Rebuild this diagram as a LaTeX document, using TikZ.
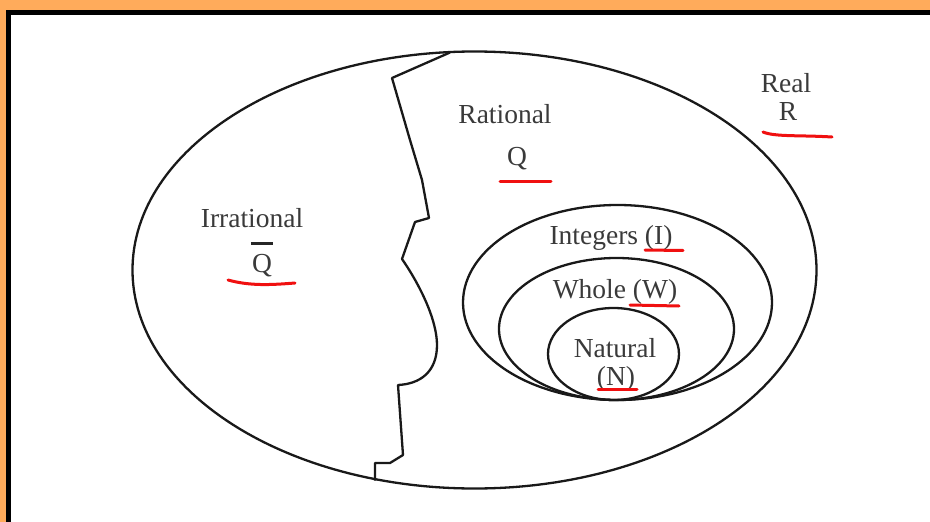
\documentclass[tikz,border=0pt]{standalone}
\usepackage{fontspec}
\setmainfont{Liberation Serif}
\definecolor{frameorange}{HTML}{FFAB5B}
\definecolor{txtgray}{HTML}{3A3A3A}
\definecolor{markred}{HTML}{F01010}
\tikzset{
  setline/.style={line width=2.3pt, draw=black!90},
  lbl/.style={anchor=base, inner sep=0pt, text=txtgray, font=\fontsize{27.5}{30}\selectfont},
  redmark/.style={draw=markred, line width=3pt, line cap=round}
}
\begin{document}
\begin{tikzpicture}[x=1pt,y=-1pt]
\useasboundingbox (0,0) rectangle (930,522);
\fill[white] (0,0) rectangle (930,522);
% frame
\fill[frameorange] (0,0) rectangle (930,10);
\fill[frameorange] (0,0) rectangle (6,522);
\fill[black] (6,10) rectangle (930,15);
\fill[black] (6,10) rectangle (11,522);
% sets
\draw[setline] (474.5,270) ellipse [x radius=342, y radius=218.5];
\draw[setline] (617.5,302.5) ellipse [x radius=154.5, y radius=97.5];
\draw[setline] (616.5,329) ellipse [x radius=117.5, y radius=71];
\draw[setline] (613.5,354) ellipse [x radius=65.5, y radius=46];
% dividing line
\draw[setline, line join=round] (450,52.5) -- (392,78) -- (410,140) -- (422,180) -- (429,218) -- (415,222) -- (402,259)
  .. controls (420,285) and (437,320) .. (437,345)
  .. controls (437,372) and (420,384) .. (398,385)
  -- (403,455) -- (390,463) -- (375,463) -- (375,480.5);
% labels
\node[lbl] (irr) at (252,227) {Irrational};
\node[lbl] (qbar) at (262,272) {Q};
\coordinate (b1) at ([xshift=-1pt,yshift=10pt]qbar.north west);
\coordinate (b2) at ([xshift=1pt,yshift=10pt]qbar.north east);
\draw[line width=3pt, black!85] (b1) -- (b2);
\node[lbl] (rat) at (505,123) {Rational};
\node[lbl] (q) at (517,165) {Q};
\node[lbl] (real) at (786,92) {Real};
\node[lbl] (r) at (788,120) {R};
\node[lbl] (int) at (611,244) {Integers (I)};
\node[lbl] (whole) at (615,298) {Whole (W)};
\node[lbl] (nat) at (615,357) {Natural};
\node[lbl] (n) at (616,385) {(N)};
% red underlines
\draw[redmark] (228,280) .. controls (250,286) and (270,285) .. (295,283);
\draw[redmark] (500,181) -- (551,181);
\draw[redmark] (763,132) .. controls (775,137) and (800,135) .. (832,137);
\draw[redmark] (645,250) -- (683,250.5);
\draw[redmark] (630,305) -- (679,306);
\draw[redmark] (598,389) -- (637,389);
\end{tikzpicture}
\end{document}
